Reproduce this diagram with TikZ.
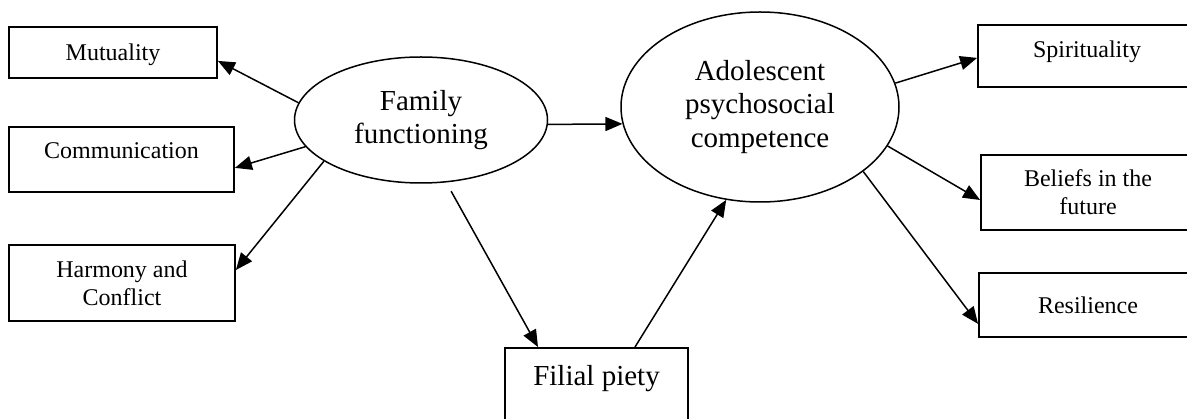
\documentclass[tikz,border=0pt]{standalone}
\usepackage{fontspec}
\setmainfont{Liberation Serif}
\usetikzlibrary{arrows.meta,shapes.geometric}
\tikzset{
  sbox/.style={draw, line width=1.8pt, rectangle, inner xsep=0pt, inner ysep=0pt,
    font=\fontsize{24}{28}\selectfont, align=center},
  bigtext/.style={font=\fontsize{29}{33.5}\selectfont, align=center},
  lat/.style={draw, line width=1.5pt, ellipse, inner sep=0pt, bigtext},
  arr/.style={line width=1.5pt, -{Triangle[length=17pt,width=14pt]}}
}
\begin{document}
\begin{tikzpicture}[x=1pt,y=-1pt]
\clip (0,0) rectangle (1187,419);
\useasboundingbox (0,0) rectangle (1187,419);
% left indicators
\node[sbox, anchor=north, minimum width=208pt, text height=34pt, text depth=17pt] (mut) at (113,26) {Mutuality};
\node[sbox, anchor=north, minimum width=225pt, text height=32pt, text depth=33pt] (comm) at (121.5,126) {Communication};
\node[sbox, minimum width=226pt, minimum height=76pt] (harm) at (122,283) {Harmony and\\Conflict};
% latent variables
\node[lat, minimum width=253pt, minimum height=126pt] (fam) at (421,120) {Family\\functioning};
\node[lat, minimum width=278pt, minimum height=190pt] (ado) at (760,107) {Adolescent\\psychosocial\\competence};
% mediator
\node[sbox, bigtext, anchor=north, minimum width=183pt, text height=38pt, text depth=48pt] (fil) at (596.5,347) {Filial piety};
% right indicators
\node[sbox, anchor=north, minimum width=218pt, text height=33pt, text depth=29pt] (spir) at (1087,24) {Spirituality};
\node[sbox, minimum width=214pt, minimum height=75pt] (bel) at (1088,192.5) {Beliefs in the\\future};
\node[sbox, anchor=north, minimum width=218pt, text height=41pt, text depth=23pt] (res) at (1088,272) {Resilience};
% connectors
\draw[arr] (fam.172.3) -- ([yshift=-8.5pt]mut.east);
\draw[arr] (fam.193.2) -- ([yshift=-8.5pt]comm.east);
\draw[arr] (fam.203.5) -- ([yshift=13pt]harm.east);
\draw[arr] (fam.-2.7) -- (ado.187.8);
\draw[arr, shorten <=10pt] (fam.-68.7) -- ([xshift=-58.5pt]fil.north);
\draw[arr] ([xshift=38.5pt]fil.north) -- (ado.250.8);
\draw[arr] (ado.10.5) -- ([yshift=-2pt]spir.west);
\draw[arr] (ado.-17.5) -- ([yshift=-7.5pt]bel.west);
\draw[arr] (ado.-32.9) -- ([yshift=-19pt]res.west);
\end{tikzpicture}
\end{document}
